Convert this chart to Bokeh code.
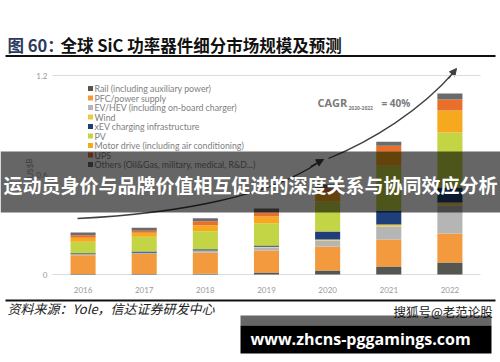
from bokeh.plotting import figure
from bokeh.models import Range1d, Arrow, NormalHead, ColumnDataSource
from bokeh.core.properties import value
from bokeh.embed import file_html
from bokeh.resources import INLINE

# ---------------- data ----------------
years = [2016, 2017, 2018, 2019, 2020, 2021, 2022]
year_labels = ["2016", "2017", "2018", "2019", "2020", "2021", "2022"]

series_names = [
    "Rail (including auxiliary power)",
    "PFC/power supply",
    "EV/HEV (including on-board charger)",
    "Wind",
    "xEV charging infrastructure",
    "PV",
    "Motor drive (including air conditioning)",
    "UPS",
    "Others (Oil&Gas, military, medical, R&D...)",
]
rail   = [0.003, 0.003, 0.004, 0.012, 0.024, 0.048, 0.072]
pfc    = [0.113, 0.121, 0.127, 0.133, 0.145, 0.163, 0.175]
evhev  = [0.004, 0.005, 0.010, 0.018, 0.036, 0.078, 0.169]
wind   = [0.002, 0.002, 0.003, 0.004, 0.006, 0.012, 0.018]
xev    = [0.006, 0.007, 0.008, 0.008, 0.048, 0.084, 0.090]
pv     = [0.070, 0.090, 0.109, 0.133, 0.181, 0.271, 0.332]
motor  = [0.024, 0.024, 0.036, 0.042, 0.054, 0.084, 0.133]
ups    = [0.014, 0.012, 0.024, 0.024, 0.024, 0.036, 0.066]
others = [0.018, 0.018, 0.018, 0.024, 0.024, 0.024, 0.036]

colors = ["#55564f", "#f29a3d", "#b5b5b5", "#ecc93f", "#1f3f7a",
          "#c3d445", "#f6a91e", "#e8702a", "#6b6b6b"]

y_ticks = [0, 0.6, 1.2]
y_tick_labels = ["0", "0.6", "1.2"]
y_grid = [0, 1.2]
y_axis_title = "US$B"

title_prefix = "图 60："
title_text = "全球 SiC 功率器件细分市场规模及预测"
source_text = "资料来源：Yole，信达证券研发中心"
cagr_main = "CAGR"
cagr_sub = "2020-2022"
cagr_tail = "= 40%"
band_text = "运动员身价与品牌价值相互促进的深度关系与协同效应分析"
mark_text = "搜狐号@老范论股"
url_text = "www.zhcns-pggamings.com"

# -------------- layout helpers (image pixel -> data) --------------
W, H = 500, 362
def dx(ix):
    return 2015.5 + (ix - 52) / 61.14
def dy(iy):
    return (274 - iy) / 165.83

p = figure(width=W, height=H,
           x_range=Range1d(dx(0), dx(W)), y_range=Range1d(dy(H), dy(0)),
           x_axis_type=None, y_axis_type=None, toolbar_location=None,
           output_backend="svg", min_border=0, outline_line_color=None)
p.background_fill_color = "white"
p.border_fill_color = "white"

# gridlines
p.segment(x0=[dx(52)] * len(y_grid), x1=[dx(480)] * len(y_grid), y0=y_grid, y1=y_grid,
          line_color="#dcdcdc", line_width=1)

# stacked bars
keys = ["rail", "pfc", "evhev", "wind", "xev", "pv", "motor", "ups", "others"]
src = ColumnDataSource(dict(x=years, rail=rail, pfc=pfc, evhev=evhev, wind=wind, xev=xev,
                            pv=pv, motor=motor, ups=ups, others=others))
p.vbar_stack(keys, x="x", width=0.41, color=colors, line_width=0, source=src)

# tick labels
p.text(x=[dx(47)] * len(y_ticks), y=y_ticks, text=y_tick_labels, text_align="right",
       text_baseline="middle", text_color="#9a9a9a", text_font=value("Lato"),
       text_font_size=value("8px"))
p.text(x=years, y=[dy(289)] * len(years), text=year_labels, text_align="center",
       text_baseline="middle", text_color="#9a9a9a", text_font=value("Lato"),
       text_font_size=value("8px"))
p.text(x=[dx(29)], y=[dy(168)], text=[y_axis_title], angle=1.5708, text_align="center",
       text_baseline="middle", text_color="#9a9a9a", text_font=value("Lato"),
       text_font_size=value("8px"))

# legend
ly = [dy(88 + 9.5 * i) for i in range(len(series_names))]
p.scatter(x=[dx(90)] * len(series_names), y=ly, marker="square", size=5,
          fill_color=colors, line_width=0)
p.text(x=[dx(94)] * len(series_names), y=ly, text=series_names, text_baseline="middle",
       text_color="#808080", text_font=value("Lato"), text_font_size=value("8.8px"))

# growth arrows
p.bezier(x0=[dx(77)], y0=[dy(218)], x1=[dx(318)], y1=[dy(162)],
         cx0=[dx(180)], cy0=[dy(213)], cx1=[dx(270)], cy1=[dy(195)],
         line_color="#404040", line_width=1.3)
p.bezier(x0=[dx(328)], y0=[dy(158)], x1=[dx(454)], y1=[dy(71)],
         cx0=[dx(372)], cy0=[dy(140)], cx1=[dx(420)], cy1=[dy(110)],
         line_color="#404040", line_width=1.3)
for (xs, ys, xe, ye) in [(310, 166, 323, 159), (448, 78, 456, 68)]:
    p.add_layout(Arrow(x_start=dx(xs), y_start=dy(ys), x_end=dx(xe), y_end=dy(ye),
                       line_color="#404040", line_width=1.3, level="underlay",
                       end=NormalHead(size=7, fill_color="#404040", line_color="#404040")))

# CAGR annotation
p.text(x=[dx(317)], y=[dy(102)], text=[cagr_main], text_baseline="middle",
       text_color="#7a7a7a", text_font=value("Open Sans"), text_font_style="bold",
       text_font_size=value("11px"))
p.text(x=[dx(348)], y=[dy(107)], text=[cagr_sub], text_baseline="middle",
       text_color="#7a7a7a", text_font=value("Open Sans"), text_font_style="bold",
       text_font_size=value("5px"))
p.text(x=[dx(381)], y=[dy(102)], text=[cagr_tail], text_baseline="middle",
       text_color="#7a7a7a", text_font=value("Open Sans"), text_font_style="bold",
       text_font_size=value("10px"))

# title and rules
p.text(x=[dx(7)], y=[dy(44)], text=[title_prefix], text_baseline="middle",
       text_color="#2b3a5c", text_font=value("Noto Sans CJK SC"), text_font_style="bold",
       text_font_size=value("16.5px"))
p.text(x=[dx(60)], y=[dy(44)], text=[title_text], text_baseline="middle",
       text_color="#111111", text_font=value("Noto Sans CJK SC"), text_font_style="bold",
       text_font_size=value("16.5px"))
p.segment(x0=[dx(5), dx(5)], x1=[dx(495), dx(495)], y0=[dy(55.5), dy(300)],
          y1=[dy(55.5), dy(300)], line_color="#111111", line_width=2)
p.text(x=[dx(7)], y=[dy(308)], text=[source_text], text_baseline="middle",
       text_color="#222222", text_font=value("Noto Sans CJK SC"), text_font_style="italic",
       text_font_size=value("13px"))

# overlay band with text
p.quad(left=[dx(0)], right=[dx(500)], top=[dy(151)], bottom=[dy(212)],
       fill_color="black", fill_alpha=0.6, line_width=0)
p.text(x=[dx(250)], y=[dy(184)], text=[band_text], text_align="center",
       text_baseline="middle", text_color="white", text_font=value("Noto Sans CJK SC"),
       text_font_style="bold", text_font_size=value("19px"))

# bottom watermark box
p.text(x=[dx(393)], y=[dy(311)], text=[mark_text], text_baseline="middle",
       text_color="#222222", text_font=value("Noto Sans CJK SC"),
       text_font_size=value("12.5px"))
p.quad(left=[dx(240)], right=[dx(491)], top=[dy(315)], bottom=[dy(325)],
       fill_color="black", fill_alpha=0.6, line_width=0)
p.quad(left=[dx(240)], right=[dx(491)], top=[dy(325)], bottom=[dy(353)],
       fill_color="black", line_width=0)
p.text(x=[dx(250)], y=[dy(338)], text=[url_text], text_baseline="middle",
       text_color="white", text_font=value("Open Sans"), text_font_style="bold",
       text_font_size=value("16px"))

open("out.html", "w").write(file_html(p, INLINE))
